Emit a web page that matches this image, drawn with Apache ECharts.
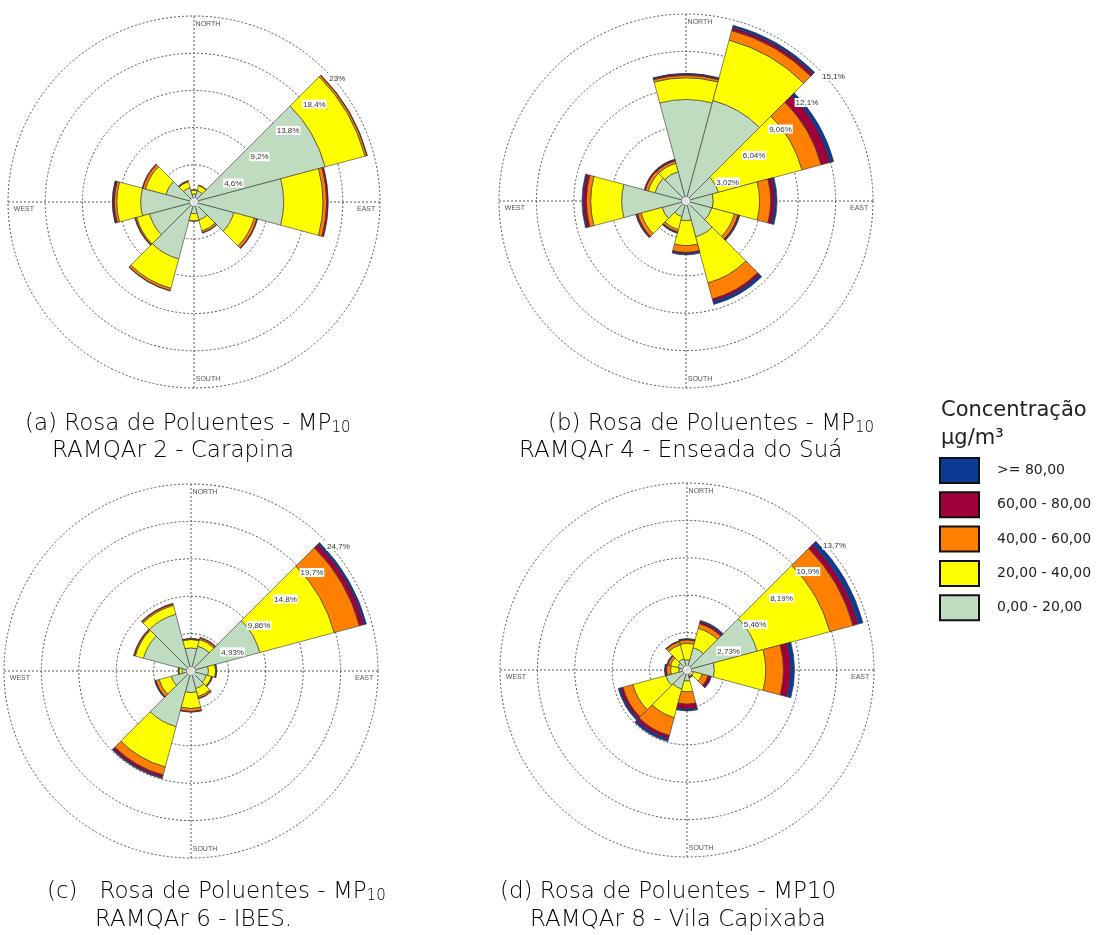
<!DOCTYPE html>
<html><head><meta charset="utf-8">
<script src="https://cdn.jsdelivr.net/npm/echarts@6/dist/echarts.min.js"></script>
<style>html,body{margin:0;padding:0;background:#fff}#c{width:1106px;height:935px}</style>
</head><body><div id="c"></div>
<script>
// 12 wind sectors (degrees from North, clockwise)
const directions = ['N', '30', '60', 'E', '120', '150', 'S', '210', '240', 'W', '300', '330'];
const layerNames = ['0,00 - 20,00', '20,00 - 40,00', '40,00 - 60,00', '60,00 - 80,00', '>= 80,00'];
const layerColors = ['#c0dcc0', '#ffff00', '#ff8000', '#a0003c', '#0a3c96'];
const compassLabels = {0: 'NORTH', 90: 'EAST', 180: 'SOUTH', 270: 'WEST'};

// (a) RAMQAr 2 - Carapina  (frequency %, by concentration class)
const a_0_20  = [1.0, 1.45, 16.8, 11.1, 5.1, 2.3, 1.45, 7.3, 5.7, 6.6, 3.6, 1.85];
const a_20_40 = [0.45, 0.65, 5.1, 4.85, 2.6, 1.4, 0.9, 3.75, 1.65, 2.95, 2.6, 0.75];
const a_40_60 = [0.1, 0.1, 0.25, 0.45, 0.35, 0.25, 0.05, 0.3, 0.15, 0.3, 0.35, 0.1];
const a_60_80 = [0, 0, 0.05, 0.2, 0.1, 0.05, 0, 0.05, 0.1, 0.2, 0.1, 0.05];
const a_80    = [0, 0, 0, 0, 0, 0, 0, 0, 0, 0.05, 0, 0];
const a_ringLabels = ['4,6%', '9,2%', '13,8%', '18,4%', '23%'];
const a_ringMax = 23;

// (b) RAMQAr 4 - Enseada do Suá
const b_0_20  = [8.2, 8.4, 2.7, 2.2, 2.15, 3.0, 1.6, 1.3, 2.0, 5.2, 2.6, 2.45];
const b_20_40 = [1.75, 5.05, 7.0, 3.75, 1.9, 3.85, 2.0, 1.1, 1.75, 2.5, 0.55, 0.7];
const b_40_60 = [0.2, 0.8, 1.6, 0.9, 0.3, 1.35, 0.55, 0.2, 0.3, 0.35, 0.25, 0.2];
const b_60_80 = [0.1, 0.25, 0.75, 0.3, 0.1, 0.2, 0.1, 0.05, 0.1, 0.25, 0.1, 0.1];
const b_80    = [0.05, 0.2, 0.3, 0.2, 0.05, 0.25, 0.1, 0.05, 0.05, 0.1, 0, 0.05];
const b_ringLabels = ['3,02%', '6,04%', '9,06%', '12,1%', '15,1%'];
const b_ringMax = 15.1;

// (c) RAMQAr 6 - IBES
const c_0_20  = [3.05, 3.4, 9.4, 2.3, 2.1, 2.4, 2.85, 7.6, 2.7, 1.2, 6.5, 7.75];
const c_20_40 = [1.1, 0.9, 10.15, 0.95, 0.7, 1.1, 2.1, 5.5, 1.65, 0.4, 1.1, 1.2];
const c_40_60 = [0.1, 0.2, 3.45, 0.1, 0.1, 0.25, 0.4, 1.1, 0.45, 0.05, 0.15, 0.2];
const c_60_80 = [0.05, 0.1, 0.65, 0.05, 0.05, 0.05, 0.1, 0.35, 0.1, 0.05, 0.1, 0.1];
const c_80    = [0, 0, 0.3, 0, 0, 0, 0, 0.15, 0.05, 0, 0, 0];
const c_ringLabels = ['4,93%', '9,86%', '14,8%', '19,7%', '24,7%'];
const c_ringMax = 24.65;

// (d) RAMQAr 8 - Vila Capixaba
const d_0_20  = [0.75, 1.7, 5.3, 2.0, 0.5, 0.4, 0.8, 1.45, 1.6, 0.6, 0.7, 0.85];
const d_20_40 = [1.2, 1.45, 5.5, 3.75, 0.65, 0.1, 0.8, 2.15, 2.5, 0.6, 0.55, 1.05];
const d_40_60 = [0.25, 0.35, 1.75, 1.3, 0.45, 0.05, 0.9, 1.35, 0.75, 0.3, 0.2, 0.25];
const d_60_80 = [0.05, 0.15, 0.4, 0.5, 0.2, 0.05, 0.35, 0.25, 0.2, 0.1, 0.05, 0.03];
const d_80    = [0.05, 0.1, 0.35, 0.3, 0.05, 0, 0.15, 0.2, 0.15, 0.05, 0.02, 0.02];
const d_ringLabels = ['2,73%', '5,46%', '8,19%', '10,9%', '13,7%'];
const d_ringMax = 13.65;

const roses = [
  {layers: [a_0_20, a_20_40, a_40_60, a_60_80, a_80], ringLabels: a_ringLabels, ringMax: a_ringMax},
  {layers: [b_0_20, b_20_40, b_40_60, b_60_80, b_80], ringLabels: b_ringLabels, ringMax: b_ringMax},
  {layers: [c_0_20, c_20_40, c_40_60, c_60_80, c_80], ringLabels: c_ringLabels, ringMax: c_ringMax},
  {layers: [d_0_20, d_20_40, d_40_60, d_60_80, d_80], ringLabels: d_ringLabels, ringMax: d_ringMax}
];
// layout (pixels)
const layout = [
  {center: [194, 202], radius: 186},
  {center: [686, 201], radius: 187},
  {center: [191, 671], radius: 187},
  {center: [687, 670], radius: 187}
];

const captionFont = 'DejaVu Sans';
const captions = [
  {text: '(a) Rosa de Poluentes - MP{sub|10}', left: 25, top: 413},
  {text: 'RAMQAr 2 - Carapina', left: 52, top: 440},
  {text: '(b) Rosa de Poluentes - MP{sub|10}', left: 548, top: 413},
  {text: 'RAMQAr 4 - Enseada do Suá', left: 519, top: 440},
  {text: '(c)   Rosa de Poluentes - MP{sub|10}', left: 47, top: 881},
  {text: 'RAMQAr 6 - IBES.', left: 95, top: 909},
  {text: '(d) Rosa de Poluentes - MP10', left: 500, top: 881},
  {text: 'RAMQAr 8 - Vila Capixaba', left: 530, top: 909}
];

const dotted = {color: '#555', width: 1, type: [2, 2]};
const compassStyle = {color: '#555', fontSize: 7, fontFamily: 'Liberation Sans'};
const option = {
  backgroundColor: '#fff',
  animation: false,
  polar: [], angleAxis: [], radiusAxis: [], series: [],
  title: [],
  legend: {
    orient: 'vertical', left: 939, top: 457, padding: 0,
    itemWidth: 39, itemHeight: 25, itemGap: 7.3,
    icon: 'rect', selectedMode: false,
    data: layerNames.slice().reverse(),
    itemStyle: {borderColor: '#111', borderWidth: 2},
    textStyle: {fontFamily: 'DejaVu Sans', fontSize: 14, color: '#222', padding: [0, 0, 0, 13]}
  }
};

captions.forEach(c => {
  option.title.push({
    text: c.text, left: c.left, top: c.top, padding: 0,
    textStyle: {fontFamily: captionFont, fontWeight: 200, fontSize: 23, color: '#000',
      rich: {sub: {fontFamily: captionFont, fontWeight: 200, fontSize: 15, verticalAlign: 'bottom', color: '#000'}}}
  });
});
option.title.push({
  text: 'Concentração\nµg/m³', left: 941, top: 397, padding: 0,
  textStyle: {fontFamily: 'DejaVu Sans', fontWeight: 'normal', fontSize: 21, lineHeight: 28, color: '#222'}
});

roses.forEach((rose, i) => {
  const L = layout[i];
  const step = rose.ringMax / 5;
  const gridIdx = option.polar.length;
  // grid polar: rings + N/E/S/W cross
  option.polar.push({center: L.center, radius: [0, L.radius]});
  option.angleAxis.push({
    polarIndex: gridIdx, type: 'value', min: 0, max: 360, interval: 90, startAngle: 90, clockwise: true,
    axisLine: {show: false}, axisTick: {show: false},
    splitLine: {show: true, lineStyle: dotted},
    axisLabel: {
      show: true, margin: -26, color: '#555', fontSize: 7, fontFamily: 'Liberation Sans',
      formatter: v => {
        const t = compassLabels[v];
        if (!t) return '';
        const key = v === 0 ? 'n' : v === 90 ? 'e' : v === 180 ? 's' : 'w';
        return '{' + key + '|' + t + '}';
      },
      rich: {
        n: Object.assign({padding: [0, 0, 14, 28]}, compassStyle),
        s: Object.assign({padding: [14, 0, 0, 28]}, compassStyle),
        e: Object.assign({padding: [14, 0, 0, 3]}, compassStyle),
        w: Object.assign({padding: [14, 0, 0, 0]}, compassStyle)
      }
    }
  });
  option.radiusAxis.push({
    polarIndex: gridIdx, type: 'value', min: 0, max: rose.ringMax, interval: step,
    axisLine: {show: false}, axisTick: {show: false}, axisLabel: {show: false},
    splitLine: {show: true, lineStyle: dotted}
  });
  // bar polar
  const barIdx = option.polar.length;
  option.polar.push({center: L.center, radius: [0, L.radius]});
  option.angleAxis.push({
    polarIndex: barIdx, type: 'category', data: directions, startAngle: 105, clockwise: true,
    boundaryGap: true, show: false
  });
  option.radiusAxis.push({polarIndex: barIdx, type: 'value', min: 0, max: rose.ringMax, show: false});
  // label polar (ring labels along NE)
  const labIdx = option.polar.length;
  option.polar.push({center: L.center, radius: [0, L.radius]});
  option.angleAxis.push({polarIndex: labIdx, type: 'value', min: 0, max: 360, startAngle: 45, show: false});
  option.radiusAxis.push({
    polarIndex: labIdx, type: 'value', min: 0, max: rose.ringMax, interval: step, z: 10,
    axisLine: {show: false}, axisTick: {show: false}, splitLine: {show: false},
    axisLabel: {
      show: true, fontSize: 8, fontFamily: 'Liberation Sans', color: '#333',
      backgroundColor: '#fff', padding: [1, 1, 0, 1], margin: -4,
      align: 'left', verticalAlign: 'top',
      formatter: v => {
        const k = Math.round(v / step);
        return k > 0 ? rose.ringLabels[k - 1] : '';
      }
    }
  });

  rose.layers.forEach((vals, k) => {
    option.series.push({
      type: 'bar', coordinateSystem: 'polar', polarIndex: barIdx,
      name: layerNames[k], stack: 'rose' + i,
      data: vals.map(v => (v === 0 ? null : v)),
      barCategoryGap: '0%', silent: true,
      itemStyle: {color: layerColors[k], borderColor: '#333', borderWidth: 0.6},
      emphasis: {disabled: true}
    });
  });
  // central hole
  option.series.push({
    type: 'scatter', coordinateSystem: 'polar', polarIndex: gridIdx, silent: true, z: 6,
    data: [[0, 0]], symbolSize: 9,
    itemStyle: {color: '#fff', borderColor: '#777', borderWidth: 1}
  });
});

const chart = echarts.init(document.getElementById('c'), null, {renderer: 'canvas'});
chart.setOption(option);
</script>
</body></html>
